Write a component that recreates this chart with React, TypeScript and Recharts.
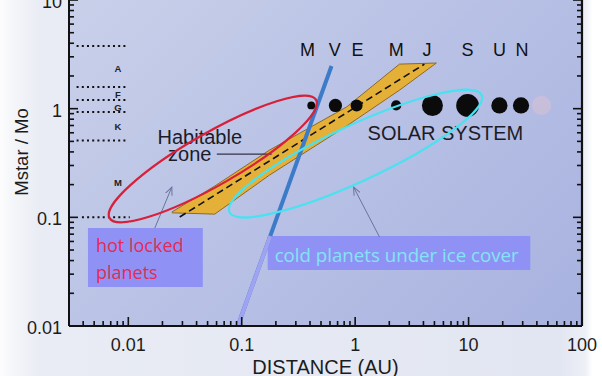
import React from "react";
import {
  ComposedChart,
  XAxis,
  YAxis,
  Area,
  Scatter,
  ReferenceLine,
  ReferenceArea,
  ReferenceDot,
  Label,
} from "recharts";

// solar system planets: distance (AU) at host star mass ~1 Mo
const planetLetters = ["M", "V", "E", "M", "J", "S", "U", "N"];
const planetDist = [0.41, 0.67, 1.03, 2.3, 4.8, 9.8, 18.7, 29];
const planetSize = [0.65, 1.1, 1.0, 0.85, 1.75, 1.9, 1.35, 1.35];
const letterDist = [0.38, 0.66, 1.05, 2.3, 4.3, 9.8, 18.7, 29.6];
const plutoDist = 44;
const plutoSize = 1.6;
const sunMass = 1.07;
const letterMass = 3.46;

// spectral classes of the host star
const classNames = ["A", "F", "G", "K", "M"];
const classMass = [2.36, 1.36, 1.03, 0.68, 0.21];
const classBounds = [3.77, 1.58, 1.2, 0.93, 0.51];
const classBoundDist = [0.0035, 0.01];
const lowBound = 0.1;
const lowBoundDist = [0.0039, 0.0103];

// habitable zone band (distance, lower / upper star mass)
const hzDist = [0.0242, 0.0578, 0.176, 0.839, 2.46, 5.2];
const hzLow = [0.11, 0.107, 0.245, 0.692, 1.48, 2.63];
const hzHigh = [0.112, 0.194, 0.416, 1.035, 2.57, 2.63];
const hzMid = [
  { x: 0.0284, y: 0.1007 },
  { x: 4.08, y: 2.57 },
];

// tidal locking line
const lockLine = [
  { x: 0.0923, y: 0.01 },
  { x: 0.619, y: 2.47 },
];
const lockLineBoxEdge = { x: 0.1787, y: 0.0673 };

// annotation anchors (data coordinates)
const hotCenter = [0.0556, 0.344];
const coldCenter = [1.007, 0.386];
const hotBoxX = [0.00441, 0.0454];
const hotBoxY = [0.0229, 0.0798];
const coldBoxX = [0.1694, 35];
const coldBoxY = [0.0327, 0.0673];
const hotTextAt = [
  [0.00519, 0.0556],
  [0.00519, 0.0314],
];
const coldTextAt = [0.195, 0.0459];
const habitableAt = [
  [0.0427, 0.548],
  [0.0348, 0.382],
];
const solarAt = [6.25, 0.597];
const hzPointer = [
  { x: 0.0603, y: 0.382 },
  { x: 0.1837, y: 0.382 },
];
const hotArrow = [
  { x: 0.01714, y: 0.0798 },
  { x: 0.0242, y: 0.19 },
];
const coldArrow = [
  { x: 1.64, y: 0.0659 },
  { x: 0.968, y: 0.19 },
];

// axes
const xDomain = [0.003, 100];
const yDomain = [0.01, 10];
const xTicks = [
  0.003, 0.004, 0.005, 0.006, 0.007, 0.008, 0.009, 0.01, 0.02, 0.03, 0.04, 0.05, 0.06, 0.07, 0.08, 0.09, 0.1,
  0.2, 0.3, 0.4, 0.5, 0.6, 0.7, 0.8, 0.9, 1, 2, 3, 4, 5, 6, 7, 8, 9, 10, 20, 30, 40, 50, 60, 70, 80, 90, 100,
];
const yTicks = [
  0.01, 0.02, 0.03, 0.04, 0.05, 0.06, 0.07, 0.08, 0.09, 0.1, 0.2, 0.3, 0.4, 0.5, 0.6, 0.7, 0.8, 0.9, 1, 2, 3, 4,
  5, 6, 7, 8, 9, 10,
];

const isDecade = (v: number) => Math.abs(Math.log10(v) - Math.round(Math.log10(v))) < 1e-6;

const hzData = hzDist.map((d, i) => ({ dist: d, band: [hzLow[i], hzHigh[i]] }));
const planets = planetDist.map((d, i) => ({ dist: d, mass: sunMass, size: planetSize[i] }));
const pluto = [{ dist: plutoDist, mass: sunMass, size: plutoSize }];
const letters = letterDist.map((d, i) => ({ dist: d, mass: letterMass, text: planetLetters[i] }));
const classLabels = classNames.map((c, i) => ({ dist: 0.0081, mass: classMass[i], text: c }));

const HELV = "'Liberation Sans', Arial, sans-serif";
const CAL = "'Open Sans', 'Noto Sans', sans-serif";
const INK = "#111";

// tick marks point into the panel; decades are longer and labelled
function BottomTick(props: any) {
  const { x, y, payload } = props;
  const major = isDecade(payload.value);
  return (
    <g>
      <rect x={x - 0.8} y={y - (major ? 9 : 5)} width={1.6} height={major ? 9 : 5} fill={INK} />
      {major && (
        <text x={x} y={y + 25} textAnchor="middle" fontSize={18} fontFamily={HELV} fill="#1c1c1c">
          {payload.value}
        </text>
      )}
    </g>
  );
}

function LeftTick(props: any) {
  const { x, y, payload } = props;
  const major = isDecade(payload.value);
  return (
    <g>
      <rect x={x} y={y - 0.8} width={major ? 9 : 5} height={1.6} fill={INK} />
      {major && (
        <text x={x - 7} y={y + 8} textAnchor="end" fontSize={18} fontFamily={HELV} fill="#1c1c1c">
          {payload.value}
        </text>
      )}
    </g>
  );
}

function RightTick(props: any) {
  const { x, y, payload } = props;
  const len = isDecade(payload.value) ? 9 : 5;
  return <rect x={x - len} y={y - 0.8} width={len} height={1.6} fill={INK} />;
}

const textShape = (text: string, style: any) => (p: any) =>
  (
    <text x={p.cx} y={p.cy} dominantBaseline="central" {...style}>
      {text}
    </text>
  );

const ellipseShape = (rx: number, ry: number, angle: number, color: string) => (p: any) =>
  (
    <ellipse
      cx={p.cx}
      cy={p.cy}
      rx={rx}
      ry={ry}
      transform={`rotate(${angle} ${p.cx} ${p.cy})`}
      fill="none"
      stroke={color}
      strokeWidth={2.2}
    />
  );

export default function App() {
  return (
    <div
      style={{
        position: "absolute",
        left: 0,
        top: 0,
        width: 602,
        height: 376,
        overflow: "hidden",
        background:
          "linear-gradient(90deg, #fdfdfe 0px, #f6f7fa 10px, #e9ecf4 40px, #e2e6f2 560px, #eef0f6 586px, #ffffff 592px)",
      }}
    >
      {/* plot panel background */}
      <div
        style={{
          position: "absolute",
          left: 69,
          top: 0,
          width: 514,
          height: 326,
          background: "linear-gradient(135deg, #c9d0ea 0%, #b8c1e5 50%, #a8b2df 100%)",
        }}
      />
      <svg width={0} height={0} style={{ position: "absolute" }}>
        <defs>
          <marker id="arrowHead" markerWidth={10} markerHeight={10} refX={8} refY={5} orient="auto" markerUnits="userSpaceOnUse">
            <path d="M0,1.5 L8,5 L0,8.5" fill="none" stroke="#6b7499" strokeWidth={1} />
          </marker>
        </defs>
      </svg>
      <ComposedChart width={602} height={376} data={hzData} margin={{ top: 0, right: 19, bottom: 0, left: 0 }}>
        <XAxis
          dataKey="dist"
          type="number"
          scale="log"
          domain={xDomain}
          allowDataOverflow
          ticks={xTicks}
          interval={0}
          height={50}
          tickSize={0}
          tickMargin={0}
          tickLine={false}
          tick={<BottomTick />}
          axisLine={{ stroke: INK, strokeWidth: 2 }}
        >
          <Label value="DISTANCE  (AU)" position="insideBottom" offset={2} fontSize={20} fontFamily={HELV} fill="#1c1c1c" />
        </XAxis>
        <YAxis
          type="number"
          scale="log"
          domain={yDomain}
          allowDataOverflow
          ticks={yTicks}
          interval={0}
          width={69}
          tickSize={0}
          tickMargin={0}
          tickLine={false}
          tick={<LeftTick />}
          axisLine={{ stroke: INK, strokeWidth: 2 }}
        >
          <Label
            content={(p: any) => {
              const vb = p.viewBox || { x: 0, y: 0 };
              const cx = vb.x + 21;
              const cy = vb.y + 152;
              return (
                <text
                  x={cx}
                  y={cy}
                  transform={`rotate(-90 ${cx} ${cy})`}
                  textAnchor="middle"
                  dominantBaseline="central"
                  fontSize={18.5}
                  fontFamily={HELV}
                  fill="#1c1c1c"
                >
                  Mstar / Mo
                </text>
              );
            }}
          />
        </YAxis>
        <YAxis
          yAxisId="right"
          orientation="right"
          type="number"
          scale="log"
          domain={yDomain}
          allowDataOverflow
          ticks={yTicks}
          interval={0}
          width={1}
          tickSize={0}
          tickMargin={0}
          tickLine={false}
          tick={<RightTick />}
          axisLine={false}
        />

        {/* habitable zone */}
        <Area
          dataKey="band"
          type="linear"
          fill="#e5b038"
          fillOpacity={1}
          stroke="#8a6a2a"
          strokeWidth={1}
          isAnimationActive={false}
          activeDot={false}
          dot={false}
        />
        <ReferenceLine segment={hzMid} stroke={INK} strokeWidth={1.6} strokeDasharray="7 4" />

        {/* right edge of the frame */}
        <ReferenceLine x={xDomain[1]} stroke={INK} strokeWidth={2.2} ifOverflow="visible" />

        {/* spectral class boundaries */}
        {classBounds.map((m, i) => (
          <ReferenceLine
            key={"cb" + i}
            segment={[
              { x: classBoundDist[0], y: m },
              { x: classBoundDist[1], y: m },
            ]}
            stroke={INK}
            strokeWidth={2}
            strokeDasharray="2 3.2"
          />
        ))}
        <ReferenceLine
          segment={[
            { x: lowBoundDist[0], y: lowBound },
            { x: lowBoundDist[1], y: lowBound },
          ]}
          stroke={INK}
          strokeWidth={2}
          strokeDasharray="2 3.2"
        />
        <Scatter
          data={classLabels}
          dataKey="mass"
          isAnimationActive={false}
          shape={(p: any) => (
            <text x={p.cx} y={p.cy} textAnchor="middle" dominantBaseline="central" fontSize={9.5} fontWeight="bold" fontFamily={HELV} fill="#222">
              {p.payload.text}
            </text>
          )}
        />

        {/* planets */}
        <Scatter
          data={planets}
          dataKey="mass"
          isAnimationActive={false}
          shape={(p: any) => <circle cx={p.cx} cy={p.cy} r={6 * p.payload.size} fill="#0b0b0b" />}
        />
        <Scatter
          data={pluto}
          dataKey="mass"
          isAnimationActive={false}
          shape={(p: any) => <circle cx={p.cx} cy={p.cy} r={6 * p.payload.size} fill="#e9c3d0" fillOpacity={0.4} />}
        />
        <Scatter
          data={letters}
          dataKey="mass"
          isAnimationActive={false}
          shape={(p: any) => (
            <text x={p.cx} y={p.cy} textAnchor="middle" dominantBaseline="central" fontSize={18} fontFamily={HELV} fill={INK}>
              {p.payload.text}
            </text>
          )}
        />

        {/* texts */}
        <ReferenceDot x={habitableAt[0][0]} y={habitableAt[0][1]} r={0} shape={textShape("Habitable", { textAnchor: "middle", fontSize: 20, fontFamily: HELV, fill: "#1c1c28" })} />
        <ReferenceDot x={habitableAt[1][0]} y={habitableAt[1][1]} r={0} shape={textShape("zone", { textAnchor: "middle", fontSize: 20, fontFamily: HELV, fill: "#1c1c28" })} />
        <ReferenceLine segment={hzPointer} stroke="#33334a" strokeWidth={1.4} />
        <ReferenceDot x={solarAt[0]} y={solarAt[1]} r={0} shape={textShape("SOLAR SYSTEM", { textAnchor: "middle", fontSize: 20, fontFamily: HELV, fill: "#1c1c28" })} />

        {/* ellipses */}
        <ReferenceDot x={hotCenter[0]} y={hotCenter[1]} r={1} shape={ellipseShape(119, 26, -29.8, "#d8203a")} />
        <ReferenceDot x={coldCenter[0]} y={coldCenter[1]} r={1} shape={ellipseShape(139, 28, -24.9, "#48e2f0")} />

        {/* tidal locking line */}
        <ReferenceLine segment={lockLine} stroke="#3b7bc8" strokeWidth={4} />
        <ReferenceLine segment={[lockLine[0], lockLineBoxEdge]} stroke="#a0a2f2" strokeWidth={4} />

        {/* labelled boxes */}
        <ReferenceArea x1={hotBoxX[0]} x2={hotBoxX[1]} y1={hotBoxY[0]} y2={hotBoxY[1]} fill="#8f92f4" fillOpacity={1} stroke="none" />
        <ReferenceArea x1={coldBoxX[0]} x2={coldBoxX[1]} y1={coldBoxY[0]} y2={coldBoxY[1]} fill="#8f92f4" fillOpacity={1} stroke="none" />
        <ReferenceDot x={hotTextAt[0][0]} y={hotTextAt[0][1]} r={0} shape={textShape("hot locked", { textAnchor: "start", fontSize: 18, fontFamily: CAL, fill: "#e52a55" })} />
        <ReferenceDot x={hotTextAt[1][0]} y={hotTextAt[1][1]} r={0} shape={textShape("planets", { textAnchor: "start", fontSize: 18, fontFamily: CAL, fill: "#e52a55" })} />
        <ReferenceDot x={coldTextAt[0]} y={coldTextAt[1]} r={0} shape={textShape("cold planets under ice cover", { textAnchor: "start", fontSize: 18.7, fontFamily: CAL, fill: "#82e4f4" })} />

        {/* arrows */}
        <ReferenceLine segment={hotArrow} stroke="#6b7499" strokeWidth={1} markerEnd="url(#arrowHead)" />
        <ReferenceLine segment={coldArrow} stroke="#6b7499" strokeWidth={1} markerEnd="url(#arrowHead)" />
      </ComposedChart>
    </div>
  );
}
